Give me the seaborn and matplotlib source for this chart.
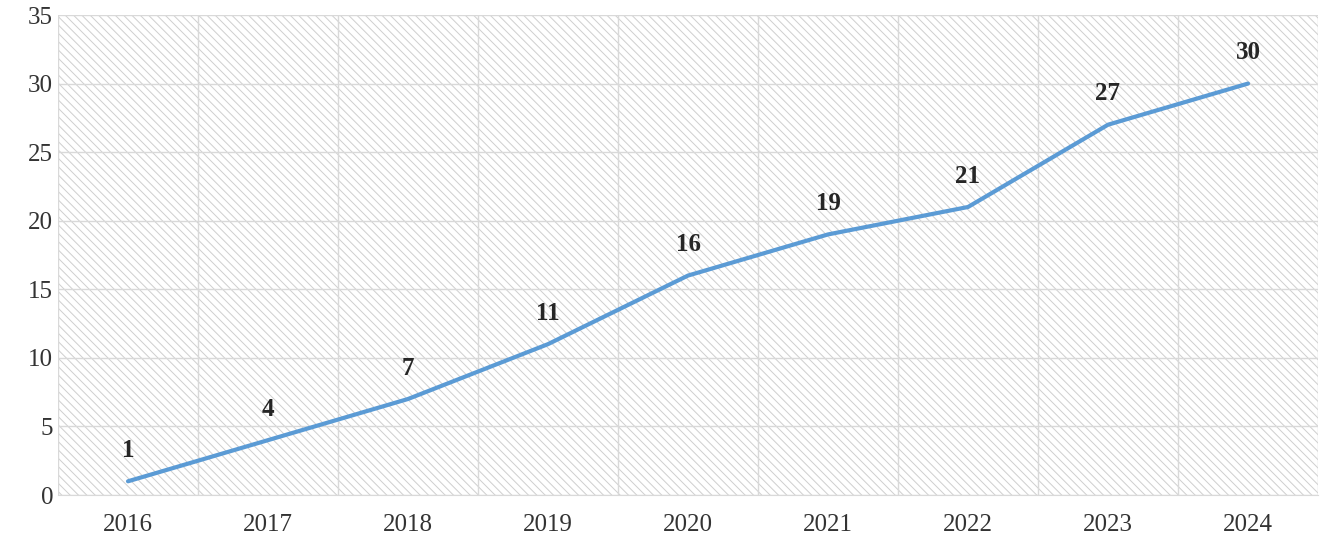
import matplotlib.pyplot as plt
import seaborn as sns
import pandas as pd
from matplotlib.patches import Rectangle

years = ["2016", "2017", "2018", "2019", "2020", "2021", "2022", "2023", "2024"]
counts = [1, 4, 7, 11, 16, 19, 21, 27, 30]
y_ticks = [0, 5, 10, 15, 20, 25, 30, 35]

df = pd.DataFrame({"year": years, "count": counts})

sns.set_style("white")
plt.rcParams['font.family'] = ['Liberation Serif', 'DejaVu Serif']
plt.rcParams['hatch.color'] = '#cfcfcf'
plt.rcParams['hatch.linewidth'] = 0.7

fig = plt.figure(figsize=(13.28, 5.45), dpi=100)
ax = fig.add_axes([58 / 1328, 50 / 545, 1260 / 1328, 480 / 545])

# hatched plot background
ax.add_patch(Rectangle((0, 0), 1, 1, transform=ax.transAxes, facecolor='white',
                       hatch='\\\\\\\\', edgecolor='#cfcfcf', linewidth=0, zorder=0))

sns.lineplot(data=df, x="year", y="count", sort=False, color='#5b9bd5',
             linewidth=3, ax=ax, zorder=3)

for i, v in enumerate(counts):
    ax.annotate(str(v), (i, v), xytext=(0, 14), textcoords='offset points',
                ha='center', va='bottom', fontsize=18, fontweight='bold', color='#262626')

ax.set_xlim(-0.5, len(years) - 0.5)
ax.set_ylim(0, 35)
ax.set_yticks(y_ticks)
ax.set_xticks(range(len(years)))
ax.set_xticks([i + 0.5 for i in range(-1, len(years))], minor=True)
ax.grid(True, axis='y', color='#d9d9d9', linewidth=1, zorder=1)
ax.grid(True, axis='x', which='minor', color='#d9d9d9', linewidth=1, zorder=1)
ax.grid(False, axis='x', which='major')
ax.tick_params(axis='both', which='both', length=0, labelsize=18, colors='#333333')
ax.tick_params(axis='x', pad=14)
ax.set_xlabel("")
ax.set_ylabel("")
for s in ax.spines.values():
    s.set_visible(False)
ax.spines['bottom'].set_visible(True)
ax.spines['bottom'].set_color('#d9d9d9')

fig.savefig("out.png", dpi=100)
